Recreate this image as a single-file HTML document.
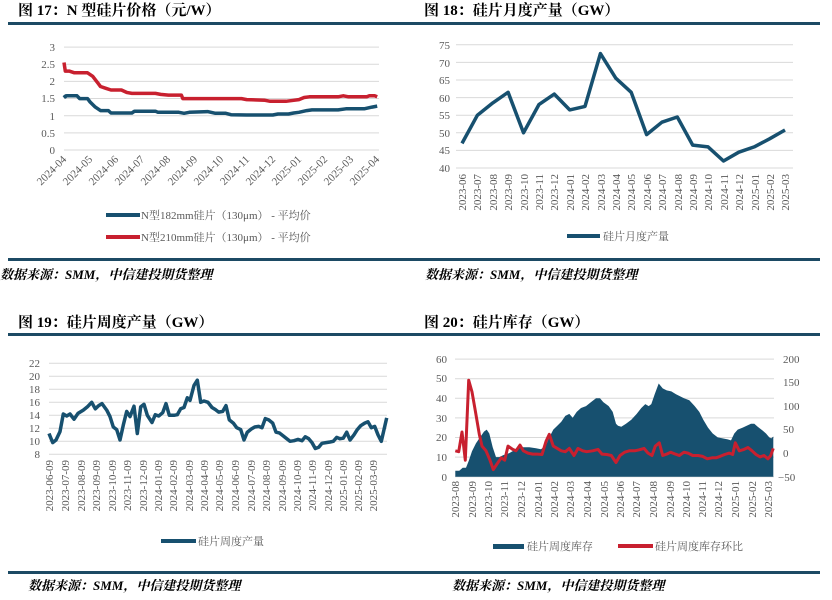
<!DOCTYPE html>
<html><head><meta charset="utf-8"><style>
body{margin:0;background:#fff;width:832px;height:600px;overflow:hidden}
svg{display:block;font-family:"Liberation Serif","Noto Serif CJK SC",serif}
.t{font-size:15px;font-weight:bold;fill:#000}
.s{font-size:13px;font-weight:bold;font-style:italic;fill:#000}
.a{font-size:11px;fill:#595959}
.l{font-size:11px;fill:#595959}
.g{stroke:#d9d9d9;stroke-width:1}
</style></head><body>
<svg id="c" width="832" height="600" viewBox="0 0 832 600">
<!-- Panel 17 -->
<text class="t" x="18" y="15">图 17：N 型硅片价格（元/W）</text>
<rect x="8" y="22" width="408" height="3" fill="#1c4a64"/>
<g id="g1"></g>
<g class="a" text-anchor="end">
<text x="55" y="51">3</text><text x="55" y="68">2.5</text><text x="55" y="85">2</text><text x="55" y="102">1.5</text><text x="55" y="120">1</text><text x="55" y="137">0.5</text><text x="55" y="154">0</text>
</g>
<g class="a" text-anchor="end">
<text transform="translate(67,160) rotate(-45)">2024-04</text>
<text transform="translate(93,160) rotate(-45)">2024-05</text>
<text transform="translate(119,160) rotate(-45)">2024-06</text>
<text transform="translate(145,160) rotate(-45)">2024-07</text>
<text transform="translate(171,160) rotate(-45)">2024-08</text>
<text transform="translate(198,160) rotate(-45)">2024-09</text>
<text transform="translate(224,160) rotate(-45)">2024-10</text>
<text transform="translate(250,160) rotate(-45)">2024-11</text>
<text transform="translate(276,160) rotate(-45)">2024-12</text>
<text transform="translate(302,160) rotate(-45)">2025-01</text>
<text transform="translate(328,160) rotate(-45)">2025-02</text>
<text transform="translate(354,160) rotate(-45)">2025-03</text>
<text transform="translate(380,160) rotate(-45)">2025-04</text>
</g>
<line x1="106" y1="215" x2="140" y2="215" stroke="#17506f" stroke-width="4"/>
<text class="l" x="141" y="219">N型182mm硅片（130μm） - 平均价</text>
<line x1="106" y1="237" x2="140" y2="237" stroke="#c8202f" stroke-width="4"/>
<text class="l" x="141" y="241">N型210mm硅片（130μm） - 平均价</text>
<rect x="8" y="258" width="408" height="3" fill="#1c4a64"/>
<text class="s" x="0" y="279">数据来源：SMM，中信建投期货整理</text>

<!-- Panel 18 -->
<text class="t" x="424" y="15">图 18：硅片月度产量（GW）</text>
<rect x="416" y="22" width="404" height="3" fill="#1c4a64"/>
<g id="g2"></g>
<g class="a" text-anchor="end">
<text x="450" y="49">75</text><text x="450" y="67">70</text><text x="450" y="84">65</text><text x="450" y="102">60</text><text x="450" y="119">55</text><text x="450" y="137">50</text><text x="450" y="154">45</text><text x="450" y="172">40</text>
</g>
<g class="a" text-anchor="end">
<text transform="translate(466,174) rotate(-90)">2023-06</text>
<text transform="translate(481,174) rotate(-90)">2023-07</text>
<text transform="translate(497,174) rotate(-90)">2023-08</text>
<text transform="translate(512,174) rotate(-90)">2023-09</text>
<text transform="translate(528,174) rotate(-90)">2023-10</text>
<text transform="translate(543,174) rotate(-90)">2023-11</text>
<text transform="translate(558,174) rotate(-90)">2023-12</text>
<text transform="translate(574,174) rotate(-90)">2024-01</text>
<text transform="translate(589,174) rotate(-90)">2024-02</text>
<text transform="translate(605,174) rotate(-90)">2024-03</text>
<text transform="translate(620,174) rotate(-90)">2024-04</text>
<text transform="translate(635,174) rotate(-90)">2024-05</text>
<text transform="translate(651,174) rotate(-90)">2024-06</text>
<text transform="translate(666,174) rotate(-90)">2024-07</text>
<text transform="translate(682,174) rotate(-90)">2024-08</text>
<text transform="translate(697,174) rotate(-90)">2024-09</text>
<text transform="translate(712,174) rotate(-90)">2024-10</text>
<text transform="translate(728,174) rotate(-90)">2024-11</text>
<text transform="translate(743,174) rotate(-90)">2024-12</text>
<text transform="translate(759,174) rotate(-90)">2025-01</text>
<text transform="translate(774,174) rotate(-90)">2025-02</text>
<text transform="translate(789,174) rotate(-90)">2025-03</text>
</g>
<line x1="567" y1="236" x2="600" y2="236" stroke="#17506f" stroke-width="4"/>
<text class="l" x="603" y="240">硅片月度产量</text>
<rect x="416" y="258" width="404" height="3" fill="#1c4a64"/>
<text class="s" x="425" y="279">数据来源：SMM，中信建投期货整理</text>

<!-- Panel 19 -->
<text class="t" x="18" y="327">图 19：硅片周度产量（GW）</text>
<rect x="8" y="333" width="408" height="3" fill="#1c4a64"/>
<g id="g3"></g>
<g class="a" text-anchor="end">
<text x="40" y="367">22</text><text x="40" y="380">20</text><text x="40" y="393">18</text><text x="40" y="406">16</text><text x="40" y="419">14</text><text x="40" y="432">12</text><text x="40" y="445">10</text><text x="40" y="458">8</text>
</g>
<g class="a" text-anchor="end">
<text transform="translate(53,460) rotate(-90)">2023-06-09</text>
<text transform="translate(69,460) rotate(-90)">2023-07-09</text>
<text transform="translate(85,460) rotate(-90)">2023-08-09</text>
<text transform="translate(100,460) rotate(-90)">2023-09-09</text>
<text transform="translate(116,460) rotate(-90)">2023-10-09</text>
<text transform="translate(131,460) rotate(-90)">2023-11-09</text>
<text transform="translate(147,460) rotate(-90)">2023-12-09</text>
<text transform="translate(162,460) rotate(-90)">2024-01-09</text>
<text transform="translate(177,460) rotate(-90)">2024-02-09</text>
<text transform="translate(193,460) rotate(-90)">2024-03-09</text>
<text transform="translate(208,460) rotate(-90)">2024-04-09</text>
<text transform="translate(223,460) rotate(-90)">2024-05-09</text>
<text transform="translate(239,460) rotate(-90)">2024-06-09</text>
<text transform="translate(255,460) rotate(-90)">2024-07-09</text>
<text transform="translate(270,460) rotate(-90)">2024-08-09</text>
<text transform="translate(286,460) rotate(-90)">2024-09-09</text>
<text transform="translate(301,460) rotate(-90)">2024-10-09</text>
<text transform="translate(316,460) rotate(-90)">2024-11-09</text>
<text transform="translate(332,460) rotate(-90)">2024-12-09</text>
<text transform="translate(347,460) rotate(-90)">2025-01-09</text>
<text transform="translate(362,460) rotate(-90)">2025-02-09</text>
<text transform="translate(377,460) rotate(-90)">2025-03-09</text>
</g>
<line x1="161" y1="541" x2="196" y2="541" stroke="#17506f" stroke-width="4"/>
<text class="l" x="198" y="545">硅片周度产量</text>
<rect x="8" y="571" width="408" height="3" fill="#1c4a64"/>
<text class="s" x="28" y="590">数据来源：SMM，中信建投期货整理</text>

<!-- Panel 20 -->
<text class="t" x="424" y="327">图 20：硅片库存（GW）</text>
<rect x="416" y="333" width="404" height="3" fill="#1c4a64"/>
<g id="g4"></g>
<g class="a" text-anchor="end">
<text x="447" y="363">60</text><text x="447" y="382">50</text><text x="447" y="402">40</text><text x="447" y="422">30</text><text x="447" y="441">20</text><text x="447" y="461">10</text><text x="447" y="481">0</text>
</g>
<g class="a">
<text x="783" y="363">200</text><text x="783" y="386">150</text><text x="783" y="410">100</text><text x="783" y="433">50</text><text x="783" y="457">0</text><text x="778" y="481">−50</text>
</g>
<g class="a" text-anchor="end">
<text transform="translate(459,481) rotate(-90)">2023-08</text>
<text transform="translate(476,481) rotate(-90)">2023-09</text>
<text transform="translate(492,481) rotate(-90)">2023-10</text>
<text transform="translate(508,481) rotate(-90)">2023-11</text>
<text transform="translate(525,481) rotate(-90)">2023-12</text>
<text transform="translate(542,481) rotate(-90)">2024-01</text>
<text transform="translate(558,481) rotate(-90)">2024-02</text>
<text transform="translate(574,481) rotate(-90)">2024-03</text>
<text transform="translate(591,481) rotate(-90)">2024-04</text>
<text transform="translate(608,481) rotate(-90)">2024-05</text>
<text transform="translate(624,481) rotate(-90)">2024-06</text>
<text transform="translate(640,481) rotate(-90)">2024-07</text>
<text transform="translate(657,481) rotate(-90)">2024-08</text>
<text transform="translate(674,481) rotate(-90)">2024-09</text>
<text transform="translate(690,481) rotate(-90)">2024-10</text>
<text transform="translate(706,481) rotate(-90)">2024-11</text>
<text transform="translate(722,481) rotate(-90)">2024-12</text>
<text transform="translate(739,481) rotate(-90)">2025-01</text>
<text transform="translate(756,481) rotate(-90)">2025-02</text>
<text transform="translate(772,481) rotate(-90)">2025-03</text>
</g>
<rect x="493" y="544" width="31" height="5" fill="#17506f"/>
<text class="l" x="527" y="550">硅片周度库存</text>
<line x1="618" y1="546" x2="653" y2="546" stroke="#c8202f" stroke-width="4"/>
<text class="l" x="655" y="550">硅片周度库存环比</text>
<rect x="416" y="571" width="404" height="3" fill="#1c4a64"/>
<text class="s" x="452" y="590">数据来源：SMM，中信建投期货整理</text>
</svg>
<script>
var NS="http://www.w3.org/2000/svg";
function el(g,t,a){var e=document.createElementNS(NS,t);for(var k in a)e.setAttribute(k,a[k]);document.getElementById(g).appendChild(e);return e;}
function grid(g,x1,x2,ys){ys.forEach(function(y){el(g,"line",{x1:x1,x2:x2,y1:y,y2:y,"class":"g"});});}
function path(pts){return pts.map(function(p,i){return (i?"L":"M")+p[0].toFixed(1)+","+p[1].toFixed(1);}).join("");}
// P1
var ys=[];for(var i=0;i<=6;i++)ys.push(150-i*17.15);grid("g1",64,379,ys);
var bl=[[0,1.6],[0.05,1.55],[0.1,1.58],[0.5,1.58],[0.6,1.5],[0.9,1.5],[1,1.4],[1.2,1.25],[1.4,1.15],[1.7,1.15],[1.8,1.08],[2.6,1.08],[2.7,1.13],[3.5,1.13],[3.6,1.1],[4.4,1.1],[4.6,1.07],[4.8,1.1],[5.5,1.12],[5.8,1.07],[6.2,1.07],[6.4,1.03],[7,1.02],[8,1.02],[8.2,1.05],[8.6,1.05],[8.8,1.08],[9,1.1],[9.3,1.15],[9.5,1.17],[10.5,1.17],[10.8,1.2],[11.5,1.2],[11.8,1.25],[12,1.28]];
var rd=[[0,2.55],[0.05,2.3],[0.2,2.3],[0.4,2.25],[0.9,2.25],[1.1,2.15],[1.3,1.95],[1.4,1.85],[1.6,1.8],[1.8,1.75],[2.2,1.75],[2.4,1.68],[2.6,1.65],[3.5,1.65],[3.7,1.62],[4,1.6],[4.5,1.6],[4.55,1.5],[6.8,1.5],[7,1.47],[7.7,1.45],[7.9,1.42],[8.5,1.42],[8.8,1.45],[9,1.47],[9.2,1.53],[9.4,1.55],[10.5,1.55],[10.7,1.58],[10.9,1.55],[11.6,1.55],[11.7,1.58],[11.9,1.58],[12,1.55]];
function m1(a){return a.map(function(p){return [64+p[0]*26.1,150-p[1]*34.3];});}
el("g1","path",{d:path(m1(bl)),fill:"none",stroke:"#17506f","stroke-width":3.5,"stroke-linejoin":"round"});
el("g1","path",{d:path(m1(rd)),fill:"none",stroke:"#c8202f","stroke-width":3.5,"stroke-linejoin":"round"});
// P2
ys=[];for(i=0;i<=7;i++)ys.push(168-i*17.6);grid("g2",456,793,ys);
var d2=[47,55,58.5,61.5,50,58,61,56.5,57.5,72.5,65.5,61.5,49.5,53,54.5,46.5,46,42,44.5,46,48.3,50.8];
el("g2","path",{d:path(d2.map(function(v,i){return [462+i*15.38,168-(v-40)*3.52];})),fill:"none",stroke:"#17506f","stroke-width":3.5,"stroke-linejoin":"round"});
// P3
ys=[];for(i=0;i<=7;i++)ys.push(454.3-i*13);grid("g3",49,387,ys);
var d3=[[147,11.2],[158,9.8],[168,10.2],[180,11.5],[190,14.2],[200,13.9],[210,14.2],[222,13.4],[234,14.3],[250,14.8],[262,15.3],[275,16],[286,15],[296,15.5],[306,15.8],[320,14.8],[330,13.8],[340,12.2],[350,11.8],[360,10.2],[370,12.5],[380,14.6],[390,13.8],[402,15.4],[412,11.2],[422,15.3],[432,15.7],[442,14],[456,12.9],[466,14.1],[476,13.9],[488,14.4],[498,15.8],[508,14],[522,14],[532,14.1],[542,15],[552,15.2],[562,16.7],[570,16.3],[582,18.6],[592,19.4],[602,16],[612,16.2],[624,16],[636,15.2],[646,14.9],[656,14.5],[668,14.6],[678,15.5],[688,13.3],[700,12.8],[710,12.1],[722,11.8],[732,10.2],[742,11.4],[754,11.9],[764,12.2],[776,12.3],[786,12.1],[796,13.5],[806,13.3],[818,12.8],[828,11.4],[838,11.3],[848,10.9],[858,10.5],[870,10],[882,10.1],[894,10.3],[906,10.1],[916,10.7],[926,10.4],[936,9.8],[946,8.9],[956,9.1],[966,9.7],[978,9.8],[990,9.9],[1000,10],[1010,10.6],[1020,10.4],[1030,10.5],[1040,11.4],[1050,10.2],[1062,11],[1072,11.8],[1082,12.4],[1094,12.8],[1104,13],[1114,12.1],[1124,12.3],[1134,11],[1144,10],[1160,13.6]];
el("g3","path",{d:path(d3.map(function(p){return [p[0]/3,300+(463-(p[1]-8)/14*273)/3];})),fill:"none",stroke:"#17506f","stroke-width":3.5,"stroke-linejoin":"round"});
// P4
ys=[];for(i=0;i<=6;i++)ys.push(476.7-i*19.6);grid("g4",455,774,ys);
var a4=[[118,3],[130,3],[140,4.5],[150,4.5],[158,8],[168,13],[180,17],[192,20],[204,23],[212,24],[220,22],[230,15],[240,10],[250,10],[262,11],[280,12],[300,14],[320,15],[340,15],[360,14.5],[375,14],[390,16],[400,20],[412,24],[424,26],[436,28],[448,31],[460,32],[470,30],[482,33],[495,35],[510,36],[525,38],[540,40],[552,40],[562,38],[578,36],[590,33],[600,27],[606,26],[616,25.5],[630,27],[646,29],[662,32],[676,35],[688,37],[698,36],[706,37],[716,42],[728,47.5],[740,45],[752,44],[766,43.5],[780,42],[792,41],[804,40],[820,39],[836,36],[850,33],[862,29],[876,25],[890,22],[905,20],[920,19.5],[935,19],[945,18.5],[955,22],[965,24],[980,25],[992,26],[1005,27],[1015,27],[1025,25.5],[1040,23.5],[1050,22],[1060,20],[1066,19.5],[1072,20.5]];
var pa=a4.map(function(p){return [416+p[0]/3,300+(530-p[1]*353/60)/3];});
el("g4","path",{d:path(pa)+"L773.3,476.7L455.3,476.7Z",fill:"#17506f"});
var r4=[[118,5],[128,3],[138,45],[148,-15],[158,155],[168,130],[178,90],[190,40],[198,15],[210,5],[222,-15],[232,-35],[244,-22],[256,-10],[266,-15],[276,15],[290,8],[300,5],[312,17],[322,5],[336,0],[350,-2],[364,-2],[378,-3],[390,25],[400,40],[412,15],[424,10],[436,5],[448,3],[460,10],[474,-5],[486,10],[500,5],[512,3],[530,5],[546,8],[558,-2],[572,-3],[586,-5],[600,-20],[612,-5],[626,2],[640,5],[656,5],[670,7],[684,10],[696,0],[708,-5],[718,15],[730,22],[740,-5],[752,-2],[764,2],[778,-2],[790,-5],[804,2],[816,0],[830,-5],[846,-5],[860,-7],[874,-12],[888,-10],[900,-10],[912,-7],[926,-3],[940,0],[950,-3],[958,22],[970,5],[984,8],[996,12],[1008,5],[1020,-3],[1032,-8],[1044,-5],[1056,-12],[1064,-5],[1072,10]];
el("g4","path",{d:path(r4.map(function(p){return [416+p[0]/3,300+(530-(p[1]+50)*353/250)/3];})),fill:"none",stroke:"#c8202f","stroke-width":3,"stroke-linejoin":"round"});
</script>
</body></html>
